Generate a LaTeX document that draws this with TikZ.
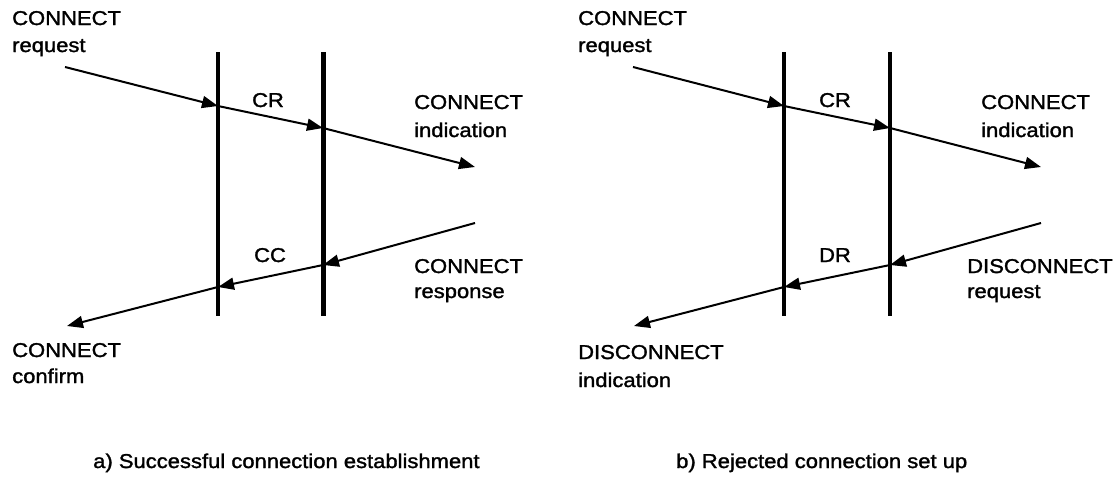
\documentclass[tikz,border=0pt]{standalone}
\usepackage{fontspec}
\setmainfont{Liberation Sans}[FakeStretch=1.1,FakeBold=1.5]
\usetikzlibrary{arrows.meta}
\begin{document}
\begin{tikzpicture}[x=1pt,y=-1pt,
  lbl/.style={anchor=base west,inner sep=0pt,font=\fontsize{20}{24}\selectfont},
  mid/.style={anchor=base,inner sep=0pt,font=\fontsize{20}{24}\selectfont},
  bar/.style={line width=4pt},
  msg/.style={line width=2pt,-{Triangle[length=16pt,width=12pt]}}]
\useasboundingbox (0,0) rectangle (1117,477);
% ---------- panel a ----------
\coordinate (a1t) at (218,52); \coordinate (a1b) at (218,316);
\coordinate (a2t) at (323,52); \coordinate (a2b) at (323,316);
\draw[bar,line width=3.6pt] (a1t) -- (a1b);
\draw[bar,line width=5pt] (a2t) -- (a2b);
\coordinate (aS) at (65,67);
\coordinate (aX1) at (218,106);
\coordinate (aX2) at (323,128);
\coordinate (aE) at (475,167);
\draw[msg] (aS) -- (aX1);
\draw[msg] (aX1) -- (aX2);
\draw[msg] (aX2) -- (aE);
\coordinate (aR) at (475,223);
\coordinate (aY2) at (323,265);
\coordinate (aY1) at (218,287);
\coordinate (aF) at (67,326);
\draw[msg] (aR) -- (aY2);
\draw[msg] (aY2) -- (aY1);
\draw[msg] (aY1) -- (aF);
\node[lbl] (aq1) at (12,25) {CONNECT};
\node[lbl] (aq2) at (12,52) {request};
\node[mid] (acr) at (268,107) {CR};
\node[lbl] (ai1) at (414,109) {CONNECT};
\node[lbl] (ai2) at (414,137) {indication};
\node[mid] (acc) at (270,262) {CC};
\node[lbl] (ar1) at (414,273) {CONNECT};
\node[lbl] (ar2) at (414,298) {response};
\node[lbl] (ac1) at (12,357) {CONNECT};
\node[lbl] (ac2) at (12,383) {confirm};
\node[lbl] (acap) at (93,468) {a) Successful connection establishment};
% ---------- panel b ----------
\coordinate (b1t) at (784,52); \coordinate (b1b) at (784,316);
\coordinate (b2t) at (890,52); \coordinate (b2b) at (890,316);
\draw[bar,line width=4.6pt] (b1t) -- (b1b);
\draw[bar,line width=3.8pt] (b2t) -- (b2b);
\coordinate (bS) at (633,67);
\coordinate (bX1) at (784,106);
\coordinate (bX2) at (890,128);
\coordinate (bE) at (1041,167);
\draw[msg] (bS) -- (bX1);
\draw[msg] (bX1) -- (bX2);
\draw[msg] (bX2) -- (bE);
\coordinate (bR) at (1041,223);
\coordinate (bY2) at (890,265);
\coordinate (bY1) at (784,287);
\coordinate (bF) at (634,326);
\draw[msg] (bR) -- (bY2);
\draw[msg] (bY2) -- (bY1);
\draw[msg] (bY1) -- (bF);
\node[lbl] (bq1) at (578,25) {CONNECT};
\node[lbl] (bq2) at (578,52) {request};
\node[mid] (bcr) at (835,107) {CR};
\node[lbl] (bi1) at (981,109) {CONNECT};
\node[lbl] (bi2) at (981,137) {indication};
\node[mid] (bdr) at (835,262) {DR};
\node[lbl] (bd1) at (967,273) {DISCONNECT};
\node[lbl] (bd2) at (967,298) {request};
\node[lbl] (bc1) at (578,359) {DISCONNECT};
\node[lbl] (bc2) at (578,387) {indication};
\node[lbl] (bcap) at (676,468) {b) Rejected connection set up};
\end{tikzpicture}
\end{document}
